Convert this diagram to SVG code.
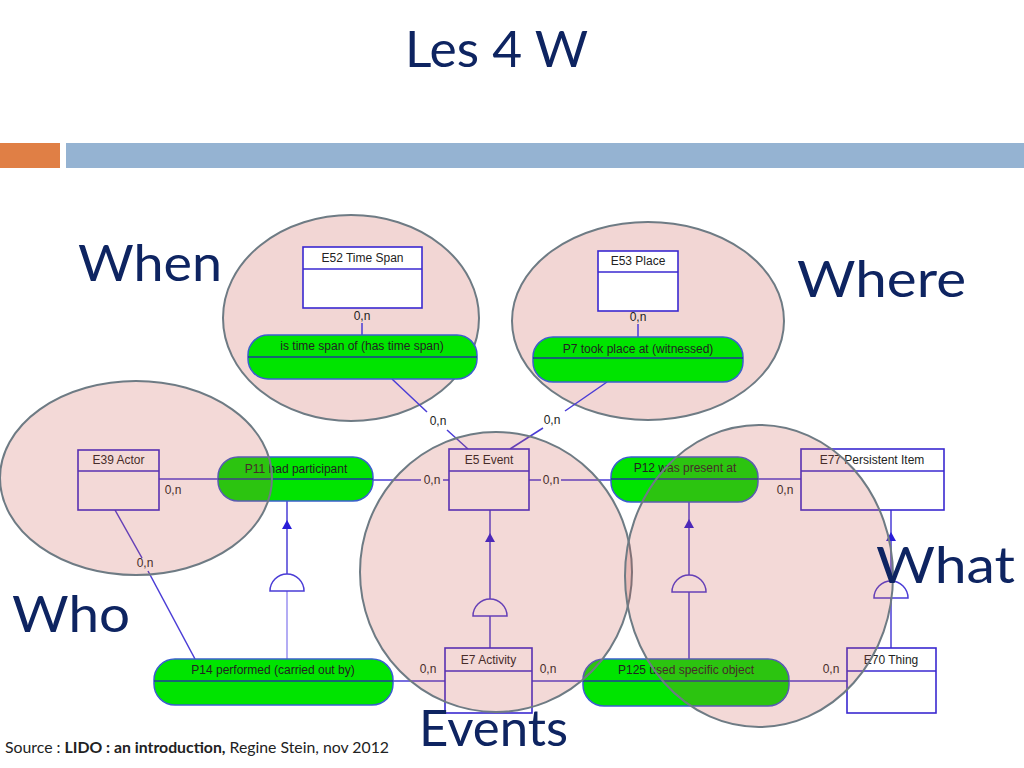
<svg xmlns="http://www.w3.org/2000/svg" width="1024" height="768" viewBox="0 0 1024 768">
<defs>
<style>
.ent rect{fill:#fff;stroke:#3A28D0;stroke-width:1.6}
.ent line{stroke:#3A28D0;stroke-width:1.6}
.pill rect{fill:#00E400;stroke:#3A5FCD;stroke-width:1.5}
.pill line{stroke:#1F3A99;stroke-width:1.5}
.t{font-family:"Liberation Sans",Arial,sans-serif;font-size:12px;fill:#222;text-anchor:middle}
.c{stroke:#4A3CD6;stroke-width:1.5;fill:none}
.cl{stroke:#9A90F0;stroke-width:1.5;fill:none}
.zone{fill:#C8504A;fill-opacity:0.22;stroke:#6E7B84;stroke-width:2}
.zoneb{fill:#F2D6D4;stroke:#6E7B84;stroke-width:2}
.big{font-family:Lato,"Liberation Sans",sans-serif;font-size:50px;fill:#0E2461}
.semi{fill:#fff;stroke:#4A3CD6;stroke-width:1.5}
.arr{fill:#2A1ED8}
</style>
<path id="ah" d="M0,0 L-5,9 L5,9 Z"/>
</defs>
<rect width="1024" height="768" fill="#fff"/>
<text x="405" y="67" class="big" font-size="48" textLength="183" lengthAdjust="spacingAndGlyphs">Les 4 W</text>
<rect x="0" y="143" width="60" height="25" fill="#E07F45"/>
<rect x="66" y="143" width="958" height="25" fill="#95B3D2"/>

<g id="zones-back">
<ellipse class="zoneb" cx="351" cy="318" rx="128" ry="103"/>
<ellipse class="zoneb" cx="648" cy="321" rx="136" ry="99"/>
</g>

<g id="connectors">
<line class="c" x1="362" y1="323" x2="362" y2="335"/>
<line class="c" x1="392" y1="379" x2="427" y2="412"/>
<line class="c" x1="447" y1="430" x2="468" y2="449"/>
<line class="c" x1="638" y1="324" x2="638" y2="337"/>
<line class="c" x1="607" y1="382" x2="565" y2="411"/>
<line class="c" x1="543" y1="428" x2="510" y2="449"/>
<line class="c" x1="159" y1="479" x2="218" y2="479"/>
<line class="c" x1="373" y1="480" x2="421" y2="480"/>
<line class="c" x1="443" y1="480" x2="449" y2="480"/>
<line class="c" x1="529" y1="480" x2="541" y2="480"/>
<line class="c" x1="561" y1="480" x2="611" y2="480"/>
<line class="c" x1="758" y1="479" x2="801" y2="479"/>
<line class="c" x1="115" y1="510" x2="142" y2="558"/>
<line class="c" x1="148" y1="571" x2="195" y2="659"/>
<line class="c" x1="393" y1="681" x2="445" y2="681"/>
<line class="c" x1="532" y1="681" x2="583" y2="681"/>
<line class="c" x1="789" y1="681" x2="847" y2="681"/>
<line class="c" x1="490" y1="510" x2="490" y2="648"/>
<line class="c" x1="287" y1="501" x2="287" y2="591"/>
<line class="cl" x1="287" y1="591" x2="287" y2="659"/>
<line class="c" x1="689" y1="502" x2="689" y2="659"/>
<line class="c" x1="891" y1="510" x2="891" y2="648"/>
<use href="#ah" x="490" y="533" class="arr"/>
<use href="#ah" x="287" y="520" class="arr"/>
<use href="#ah" x="689" y="519" class="arr"/>
<use href="#ah" x="891" y="532" class="arr"/>
<path class="semi" d="M473,616 A17,17 0 0 1 507,616 Z"/>
<path class="semi" d="M270,591 A17,17 0 0 1 304,591 Z"/>
<path class="semi" d="M672,592 A17,17 0 0 1 706,592 Z"/>
<path class="semi" d="M874,598 A17,17 0 0 1 908,598 Z"/>
<text class="t" x="362" y="320">0,n</text>
<text class="t" x="438" y="425">0,n</text>
<text class="t" x="638" y="321">0,n</text>
<text class="t" x="552" y="424">0,n</text>
<text class="t" x="173" y="494">0,n</text>
<text class="t" x="432" y="484">0,n</text>
<text class="t" x="551" y="484">0,n</text>
<text class="t" x="785" y="494">0,n</text>
<text class="t" x="145" y="567">0,n</text>
<text class="t" x="428" y="673">0,n</text>
<text class="t" x="548" y="673">0,n</text>
<text class="t" x="831" y="673">0,n</text>
</g>

<g id="E52" class="ent"><rect x="303" y="247" width="119" height="61"/><line x1="303" y1="269" x2="422" y2="269"/><text class="t" x="362.5" y="262">E52 Time Span</text></g>
<g id="P4" class="pill"><rect x="248" y="335" width="229" height="44" rx="20"/><line x1="248" y1="357" x2="477" y2="357"/><text class="t" x="362" y="350">is time span of (has time span)</text></g>
<g id="E53" class="ent"><rect x="598" y="251" width="80" height="60"/><line x1="598" y1="272" x2="678" y2="272"/><text class="t" x="638" y="265">E53 Place</text></g>
<g id="P7" class="pill"><rect x="533" y="337" width="210" height="45" rx="20"/><line x1="533" y1="358" x2="743" y2="358"/><text class="t" x="638" y="353">P7 took place at (witnessed)</text></g>
<g id="E39" class="ent"><rect x="78" y="450" width="81" height="60"/><line x1="78" y1="471" x2="159" y2="471"/><text class="t" x="118.5" y="464">E39 Actor</text></g>
<g id="P11" class="pill"><rect x="218" y="457" width="155" height="44" rx="20"/><line x1="218" y1="479" x2="373" y2="479"/><text class="t" x="296" y="473">P11 had participant</text></g>
<g id="E5" class="ent"><rect x="449" y="449" width="80" height="61"/><line x1="449" y1="471" x2="529" y2="471"/><text class="t" x="489" y="464">E5 Event</text></g>
<g id="P12" class="pill"><rect x="611" y="457" width="147" height="45" rx="20"/><line x1="611" y1="479" x2="758" y2="479"/><text class="t" x="685" y="472">P12 was present at</text></g>
<g id="E77" class="ent"><rect x="801" y="449" width="143" height="61"/><line x1="801" y1="471" x2="944" y2="471"/><text class="t" x="872" y="464">E77 Persistent Item</text></g>
<g id="P14" class="pill"><rect x="154" y="659" width="239" height="46" rx="21"/><line x1="154" y1="681" x2="393" y2="681"/><text class="t" x="273" y="674">P14 performed (carried out by)</text></g>
<g id="E7" class="ent"><rect x="445" y="648" width="87" height="65"/><line x1="445" y1="671" x2="532" y2="671"/><text class="t" x="488.5" y="664">E7 Activity</text></g>
<g id="P125" class="pill"><rect x="583" y="659" width="206" height="47" rx="21"/><line x1="583" y1="681" x2="789" y2="681"/><text class="t" x="686" y="674">P125 used specific object</text></g>
<g id="E70" class="ent"><rect x="847" y="648" width="89" height="65"/><line x1="847" y1="671" x2="936" y2="671"/><text class="t" x="891" y="664">E70 Thing</text></g>

<g id="zones">
<ellipse class="zone" cx="136" cy="478" rx="136" ry="97"/>
<ellipse class="zone" cx="496" cy="572" rx="136" ry="140"/>
<ellipse class="zone" cx="759" cy="576" rx="134" ry="151"/>
</g>

<g id="labels">
<text class="big" x="78" y="281" textLength="144" lengthAdjust="spacingAndGlyphs">When</text>
<text class="big" x="797" y="297" textLength="169" lengthAdjust="spacingAndGlyphs">Where</text>
<text class="big" x="12" y="632" textLength="118" lengthAdjust="spacingAndGlyphs">Who</text>
<text class="big" x="876" y="583" textLength="139" lengthAdjust="spacingAndGlyphs">What</text>
<text class="big" x="419" y="746" textLength="149" lengthAdjust="spacingAndGlyphs">Events</text>
</g>
<text x="5" y="753" font-family="Lato,'Liberation Sans',sans-serif" font-size="15" fill="#222" textLength="384" lengthAdjust="spacingAndGlyphs">Source : <tspan font-weight="bold">LIDO : an introduction,</tspan> Regine Stein,  nov 2012</text>
</svg>
